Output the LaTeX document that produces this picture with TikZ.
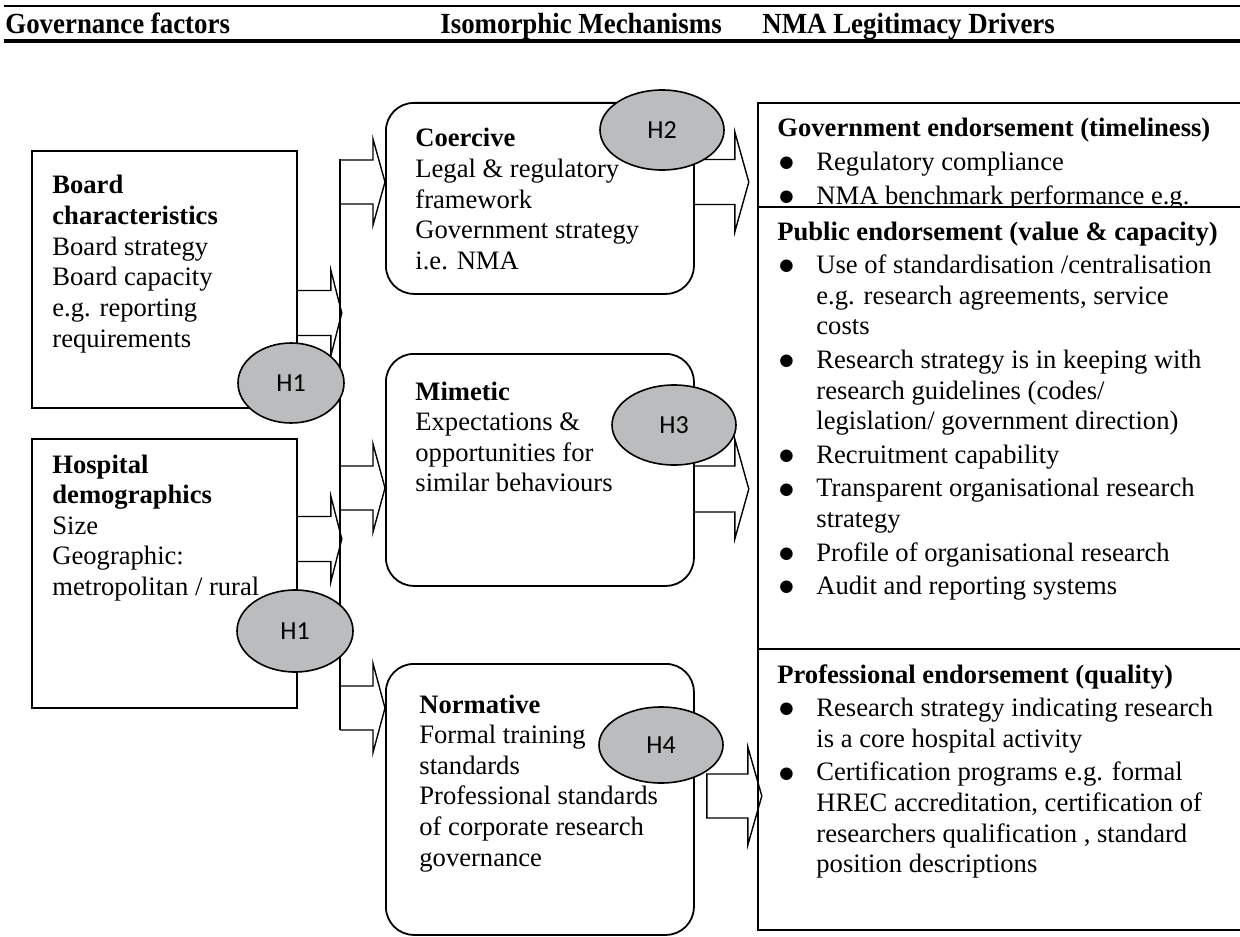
\documentclass[tikz,border=0pt]{standalone}
\usepackage{fontspec}
\setmainfont{Liberation Serif}
\newfontfamily\hfont{Carlito}
\newfontfamily\symfont{DejaVu Sans}
\usetikzlibrary{calc,shapes.geometric}
\definecolor{hgray}{RGB}{186,188,190}
\newcommand{\bodyfont}{\fontsize{13.3}{15.3}\selectfont}
\newcommand{\headfont}{\fontsize{14.6}{16}\selectfont\bfseries}
\newcommand{\bitem}{\par\vspace{1.5pt}\noindent\hangindent=19.5pt\hangafter=1\makebox[19.5pt][l]{\hspace{1pt}\raisebox{1.4pt}{\symfont\fontsize{8.2}{9}\selectfont ●}}}
% #1 tail, #2 shaft length, #3 half shaft, #4 half head, #5 head length, #6 closing
\newcommand{\blkarrow}[6]{\draw[blk] #1 ++(0,-#3) -- ++(#2,0) -- ++(0,#3-#4) -- ++(#5,#4) -- ++(-#5,#4) -- ++(0,#3-#4) -- ++(-#2,0) #6;}
\begin{document}
\begin{tikzpicture}[x=0.5pt,y=-0.5pt,
  sqbox/.style={draw, line width=0.9pt, inner sep=0pt, anchor=north west, fill=white},
  rndbox/.style={sqbox, rounded corners=14pt},
  hyp/.style={ellipse, draw, line width=0.8pt, fill=hgray, inner sep=0pt, font=\hfont\fontsize{13}{14}\selectfont},
  txtnode/.style={anchor=base west, inner sep=0pt, font=\bodyfont},
  headnode/.style={anchor=base west, inner sep=0pt, font=\headfont},
  blk/.style={draw, line width=0.7pt, line join=miter}]
\useasboundingbox (0,0) rectangle (1240,936);

% header
\coordinate (htl) at (4,6);
\coordinate (htr) at (1242,6);
\coordinate (hbl) at (4,41);
\coordinate (hbr) at (1242,41);
\draw[line width=1pt] (htl) -- (htr);
\draw[line width=1.6pt] (hbl) -- (hbr);
\node[headnode] (h1t) at (5,34) {\scalebox{0.92}[1]{Governance factors}};
\node[headnode] (h2t) at (440,34) {\scalebox{0.92}[1]{Isomorphic Mechanisms}};
\node[headnode] (h3t) at (762,34) {\scalebox{0.92}[1]{NMA Legitimacy Drivers}};

% left boxes
\node[sqbox, minimum width=132.5pt, minimum height=128.5pt] (board) at (31,150) {};
\node[sqbox, minimum width=132.5pt, minimum height=134.5pt] (hosp) at (31,438) {};
\node[txtnode] (boardt) at (52,194) {\parbox[t]{120pt}{\textbf{Board\\characteristics}\\Board strategy\\Board capacity\\e.g. reporting\\requirements}};
\node[txtnode] (hospt) at (52,473) {\parbox[t]{120pt}{\textbf{Hospital\\demographics}\\Size\\Geographic:\\metropolitan / rural}};

% bus line
\coordinate (bustop) at (340,159);
\coordinate (busbot) at (340,730);
\draw[line width=1pt] (bustop) -- (busbot);

% middle boxes
\node[rndbox, minimum width=154pt, minimum height=95.5pt] (coer) at (385,102) {};
\node[rndbox, minimum width=154pt, minimum height=116pt] (mime) at (385,353) {};
\node[rndbox, minimum width=154pt, minimum height=135.5pt] (norm) at (385,663) {};
\node[txtnode] (coert) at (415,147) {\parbox[t]{135pt}{\textbf{Coercive}\\Legal \& regulatory\\framework\\Government strategy\\i.e. NMA}};
\node[txtnode] (mimet) at (415,400) {\parbox[t]{135pt}{\textbf{Mimetic}\\Expectations \&\\opportunities for\\similar behaviours}};
\node[txtnode] (normt) at (419,713) {\parbox[t]{135pt}{\textbf{Normative}\\Formal training\\standards\\Professional standards\\of corporate research\\governance}};

% right sections
\node[sqbox, minimum width=242.5pt, minimum height=52pt] (gov) at (757,102) {};
\node[txtnode] (govt) at (777,137) {\parbox[t]{230pt}{\textbf{Government endorsement (timeliness)}\bitem Regulatory compliance\bitem NMA benchmark performance e.g.}};
\node[sqbox, minimum width=242.5pt, minimum height=221pt] (pub) at (757,206) {};
\node[txtnode] (pubt) at (777,240) {\parbox[t]{230pt}{\textbf{Public endorsement (value \& capacity)}%
\bitem Use of standardisation /centralisation\\e.g. research agreements, service\\costs%
\bitem Research strategy is in keeping with\\research guidelines (codes/\\legislation/ government direction)%
\bitem Recruitment capability%
\bitem Transparent organisational research\\strategy%
\bitem Profile of organisational research%
\bitem Audit and reporting systems}};
\node[sqbox, minimum width=242.5pt, minimum height=140.5pt] (prof) at (757,648) {};
\node[txtnode] (proft) at (777,683) {\parbox[t]{230pt}{\textbf{Professional endorsement (quality)}%
\bitem Research strategy indicating research\\is a core hospital activity%
\bitem Certification programs e.g. formal\\HREC accreditation, certification of\\researchers qualification , standard\\position descriptions}};

% block arrows
\blkarrow{($(board.north east)+(0,163)$)}{33}{22.5}{43}{11}{}
\blkarrow{($(hosp.north east)+(0,101)$)}{33}{22.5}{43}{11}{}
\blkarrow{($(bustop)+(0,23)$)}{33}{22}{43}{12}{}
\blkarrow{($(bustop)+(0,329)$)}{33}{22}{44}{12}{}
\blkarrow{($(bustop)+(0,549)$)}{33}{22}{44.5}{12}{}
\blkarrow{($(coer.north east)+(0,80)$)}{40}{22.5}{50}{14}{}
\blkarrow{($(mime.north east)+(0,136)$)}{40}{23}{50}{14}{}
\blkarrow{($(norm.north east)+(12,133)$)}{41}{22}{49}{14}{-- cycle}

% hypotheses
\node[hyp, minimum width=53pt, minimum height=40pt] (hA) at (291,383) {H1};
\node[hyp, minimum width=58pt, minimum height=41pt] (hB) at (295,631) {H1};
\node[hyp, minimum width=62pt, minimum height=40pt] (hC) at (662,130) {H2};
\node[hyp, minimum width=62pt, minimum height=40pt] (hD) at (674,425) {H3};
\node[hyp, minimum width=62pt, minimum height=38pt] (hE) at (661,745) {H4};
\end{tikzpicture}
\end{document}
